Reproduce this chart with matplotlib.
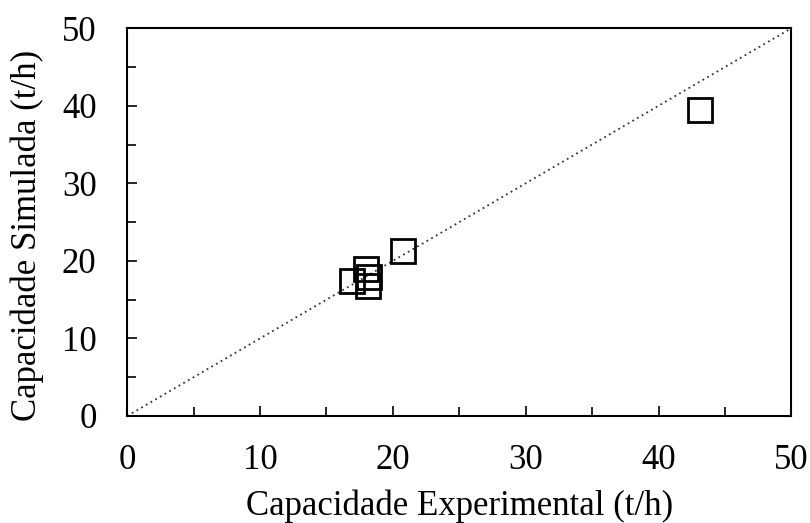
import numpy as np
import matplotlib
matplotlib.use("Agg")
from matplotlib import pyplot as plt
from matplotlib.ticker import MultipleLocator

# Capacidade experimental vs simulada (t/h)
cap_exp = [16.9, 18.0, 18.2, 18.1, 20.8, 43.1]
cap_sim = [17.4, 18.9, 17.9, 16.8, 21.3, 39.4]
linha_ref = [0, 50]

plt.rcParams['font.family'] = ['Liberation Serif', 'DejaVu Serif']

fig = plt.figure(figsize=(8.1, 5.23), dpi=100)
ax = fig.add_axes([0.157, 0.2046, 0.820, 0.7414])

# Linha 1:1
ax.plot(linha_ref, linha_ref, linestyle=(0, (1, 2)), color='#333333', linewidth=1.3)

# Pontos
ax.plot(cap_exp, cap_sim, linestyle='none', marker='s', markersize=17,
        markerfacecolor='none', markeredgecolor='black', markeredgewidth=2.0)

ax.set_xlim(0, 50)
ax.set_ylim(0, 50)
ax.xaxis.set_major_locator(MultipleLocator(10))
ax.yaxis.set_major_locator(MultipleLocator(10))
ax.xaxis.set_minor_locator(MultipleLocator(5))
ax.yaxis.set_minor_locator(MultipleLocator(5))
ax.tick_params(which='major', direction='in', length=7.5, width=1.2,
               top=False, right=False, labelsize=25)
ax.tick_params(which='minor', direction='in', length=6.5, width=1.2,
               top=False, right=False)
ax.tick_params(axis='x', pad=20)
ax.tick_params(axis='y', pad=22)

for s in ax.spines.values():
    s.set_linewidth(1.5)

ax.set_xlabel('Capacidade Experimental (t/h)', fontsize=25)
ax.set_ylabel('Capacidade Simulada (t/h)', fontsize=25)
ax.xaxis.set_label_coords(0.5, -0.19)
ax.yaxis.set_label_coords(-0.125, 0.465)

fig.savefig('out.png', dpi=100)
